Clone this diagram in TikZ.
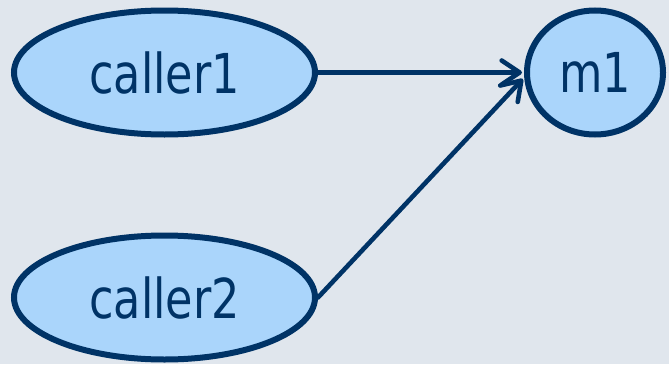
\documentclass[tikz,border=0pt]{standalone}
\usepackage{fontspec}
\setmainfont{DejaVu Sans}
\newfontfamily\lblfont[FakeStretch=0.81]{DejaVu Sans}
\usetikzlibrary{shapes.geometric,arrows.meta}
\definecolor{bgc}{HTML}{E0E6ED}
\definecolor{nodefill}{HTML}{AAD5FB}
\definecolor{navy}{HTML}{003366}
\tikzset{
  oval/.style={ellipse, draw=navy, line width=6pt, fill=nodefill, inner sep=0pt,
    text=navy, font=\lblfont\fontsize{55}{60}\selectfont},
  link/.style={draw=navy, line width=4.6pt, line cap=round, shorten >=2pt,
    -{Straight Barb[length=18pt,width=24pt,line cap=round,line join=round]}}
}
\begin{document}
\begin{tikzpicture}[x=1pt,y=-1pt]
\useasboundingbox (0,0) rectangle (669,364);
\fill[bgc] (0,0) rectangle (669,364);
\node[oval, minimum width=301pt, minimum height=124pt] (c1) at (164.5,72.5) {caller1};
\node[oval, minimum width=301pt, minimum height=124pt] (c2) at (164.5,297.5) {caller2};
\node[oval, minimum width=136pt, minimum height=124pt] (m1) at (595,72.5) {m1};
\draw[link] (c1.east) -- (m1.west);
\draw[link] (c2.east) -- (m1.184);
\end{tikzpicture}
\end{document}
